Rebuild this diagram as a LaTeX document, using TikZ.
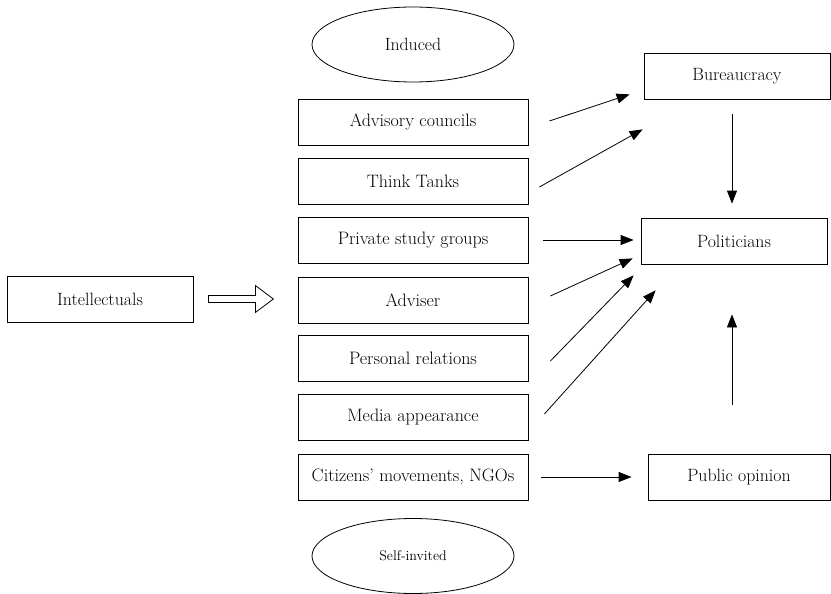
\documentclass[tikz,border=0pt]{standalone}
\usetikzlibrary{arrows.meta,shapes.geometric,calc}
\tikzset{
    channel/.style={draw, line width=0.8pt, minimum width=230pt, minimum height=46pt, inner sep=0pt, font=\fontsize{18}{21}\selectfont},
    actor/.style={draw, line width=0.8pt, minimum width=186pt, minimum height=46pt, inner sep=0pt, font=\fontsize{17.8}{21}\selectfont},
    mode/.style={draw, ellipse, line width=0.8pt, minimum width=202pt, minimum height=75pt, inner sep=0pt},
    flow/.style={line width=0.8pt, -{Triangle[length=13pt,width=10pt]}}
}
\begin{document}
\begin{tikzpicture}[x=1pt,y=-1pt]
        \useasboundingbox (0,0) rectangle (831,594);
        \node [mode, font=\fontsize{17.7}{21}\selectfont] (induced) at (413,44.5) {Induced};
        \node [mode, font=\fontsize{14}{17}\selectfont] (selfinv) at (413,556) {Self-invited};
        \node [channel] (adv) at (413,122) {Advisory councils};
        \node [channel] (think) at (413,181) {Think Tanks};
        \node [channel] (priv) at (413,240) {Private study groups};
        \node [channel] (adviser) at (413,300) {Adviser};
        \node [channel] (pers) at (413,358) {Personal relations};
        \node [channel] (media) at (413,417) {Media appearance};
        \node [channel] (citiz) at (413,477) {Citizens’ movements, NGOs};
        \node [actor] (intel) at (100,299) {Intellectuals};
        \node [actor] (bur) at (737,76) {Bureaucracy};
        \node [actor] (pol) at (734,241) {Politicians};
        \node [actor, minimum width=182pt] (pub) at (739,477) {Public opinion};
        \draw[line width=0.8pt] ($(intel.east)+(15,-3.5)$) -- ++(47,0) -- ++(0,-10) -- ++(18,13.5)
            -- ++(-18,13.5) -- ++(0,-10) -- ++(-47,0) -- cycle;
        \draw[flow] ($(adv.east)+(21,-1)$) -- ($(bur.south west)+(-14,-5)$);
        \draw[flow] ($(think.east)+(11,6)$) -- ($(bur.south west)+(-1,30)$);
        \draw[flow] ($(bur.south)+(-5,15)$) -- ($(pol.north)+(-2,-14)$);
        \draw[flow] ([xshift=15pt]priv.east) -- ([xshift=-7pt]priv.east -| pol.west);
        \draw[flow] ($(adviser.east)+(22,-4)$) -- ($(pol.south west)+(-8,-6)$);
        \draw[flow] ($(pers.east)+(22,3)$) -- ($(pol.south west)+(-7,11)$);
        \draw[flow] ($(media.east)+(16,-3)$) -- ($(pol.south west)+(15,26)$);
        \draw[flow] ([xshift=13pt]citiz.east) -- ([xshift=-16pt]pub.west);
        \draw[flow] ($(pub.north)+(-7,-49)$) -- ($(pol.south)+(-2,50)$);
    \end{tikzpicture}
\end{document}
